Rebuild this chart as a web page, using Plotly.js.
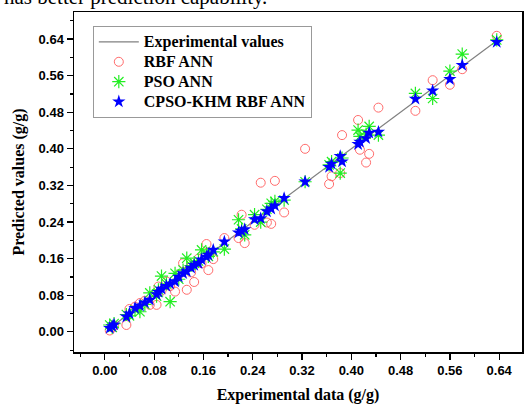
<!DOCTYPE html>
<html>
<head>
<meta charset="utf-8">
<script src="https://cdn.plot.ly/plotly-3.0.1.min.js"></script>
<style>html,body{margin:0;padding:0;background:#fff;}#chart{width:526px;height:404px;}</style>
</head>
<body>
<div id="chart"></div>
<script>
// Experimental data (g/g)
const experimental = [0.008,0.012,0.015,0.035,0.040,0.049,0.057,0.065,0.073,0.084,0.087,0.092,0.100,0.106,0.114,0.120,0.127,0.133,0.140,0.145,0.152,0.157,0.165,0.168,0.176,0.194,0.217,0.222,0.227,0.243,0.253,0.263,0.270,0.276,0.291,0.325,0.364,0.368,0.382,0.385,0.411,0.414,0.424,0.429,0.444,0.504,0.532,0.560,0.580,0.636];
// Predicted values (g/g)
const rbfANN = [0.003,0.010,0.014,0.015,0.050,0.055,0.063,0.068,0.059,0.059,0.099,0.090,0.110,0.100,0.088,0.125,0.150,0.092,0.130,0.109,0.160,0.150,0.192,0.135,0.159,0.205,0.205,0.256,0.194,0.234,0.326,0.239,0.236,0.330,0.261,0.400,0.323,0.340,0.347,0.430,0.463,0.398,0.370,0.389,0.490,0.483,0.550,0.540,0.574,0.647];
const psoANN = [0.015,0.010,0.018,0.038,0.035,0.048,0.044,0.060,0.085,0.078,0.092,0.122,0.105,0.066,0.128,0.115,0.135,0.161,0.145,0.150,0.155,0.179,0.172,0.165,0.175,0.181,0.245,0.225,0.212,0.256,0.240,0.268,0.281,0.285,0.288,0.328,0.365,0.372,0.347,0.380,0.441,0.427,0.432,0.449,0.430,0.521,0.510,0.570,0.607,0.638];
const cpsoKhmRbfANN = [0.008,0.012,0.016,0.033,0.040,0.052,0.057,0.064,0.070,0.082,0.087,0.094,0.100,0.105,0.110,0.120,0.128,0.132,0.140,0.146,0.150,0.158,0.164,0.168,0.179,0.197,0.217,0.220,0.224,0.246,0.248,0.263,0.269,0.276,0.292,0.328,0.360,0.367,0.384,0.372,0.410,0.415,0.423,0.435,0.437,0.509,0.527,0.552,0.583,0.633];
const lineX = [0.005, 0.636];
const seriesNames = ['Experimental values', 'RBF ANN', 'PSO ANN', 'CPSO-KHM RBF ANN'];
const tickVals = [0.00,0.08,0.16,0.24,0.32,0.40,0.48,0.56,0.64];
const tickText = ['0.00','0.08','0.16','0.24','0.32','0.40','0.48','0.56','0.64'];

const serif = 'Liberation Serif, Times New Roman, serif';
const sans = 'Liberation Sans, Arial, sans-serif';
const legName = s => '<span style="font-size:16px"><b>' + s + '</b></span>';

const traces = [
  {x: lineX, y: lineX, mode: 'lines', name: legName(seriesNames[0]),
   line: {color: '#808080', width: 1.2}},
  {x: experimental, y: rbfANN, mode: 'markers', name: legName(seriesNames[1]),
   marker: {symbol: 'circle-open', size: 9, color: '#ff6b6b', line: {width: 1}}},
  {x: experimental, y: psoANN, mode: 'markers', name: legName(seriesNames[2]),
   marker: {symbol: 'asterisk-open', size: 11, color: '#22ee22', line: {width: 1.2, color: '#22ee22'}}},
  {x: experimental, y: cpsoKhmRbfANN, mode: 'markers', name: legName(seriesNames[3]),
   marker: {symbol: 'star', size: 10, color: '#0000ff', line: {width: 0}}}
];

const axisCommon = {
  tickvals: tickVals, ticktext: tickText,
  ticks: 'outside', ticklen: 6, tickwidth: 1.2, tickcolor: '#000',
  minor: {dtick: 0.04, tick0: 0, ticks: 'outside', ticklen: 3, tickwidth: 1.2, tickcolor: '#000'},
  showline: true, linecolor: '#000', linewidth: 1.5, mirror: true,
  showgrid: false, zeroline: false,
  tickfont: {family: sans, size: 13, color: '#000', weight: 'bold'}
};

const layout = {
  width: 526, height: 404,
  margin: {l: 74, r: 4, t: 12, b: 52},
  paper_bgcolor: '#fff', plot_bgcolor: '#fff',
  showlegend: true,
  xaxis: Object.assign({}, axisCommon, {
    range: [-0.050, 0.677],
    title: {text: '<b>Experimental data (g/g)</b>', font: {family: serif, size: 16, color: '#000'}, standoff: 12}
  }),
  yaxis: Object.assign({}, axisCommon, {
    range: [-0.044, 0.699],
    title: {text: '<b>Predicted values (g/g)</b>', font: {family: serif, size: 16, color: '#000'}, standoff: 10}
  }),
  legend: {
    x: 0.042, y: 0.959, xanchor: 'left', yanchor: 'top',
    bgcolor: '#fff', bordercolor: '#999', borderwidth: 1,
    font: {family: serif, size: 13, color: '#000'},
    itemwidth: 40, tracegroupgap: 0
  },
  annotations: [{
    text: 'has better prediction capability.', xref: 'paper', yref: 'paper',
    x: -0.16, y: 1.044, xanchor: 'left', yanchor: 'middle', showarrow: false,
    font: {family: serif, size: 21, color: '#000'}
  }]
};

Plotly.newPlot('chart', traces, layout, {displayModeBar: false, staticPlot: true});
</script>
</body>
</html>
